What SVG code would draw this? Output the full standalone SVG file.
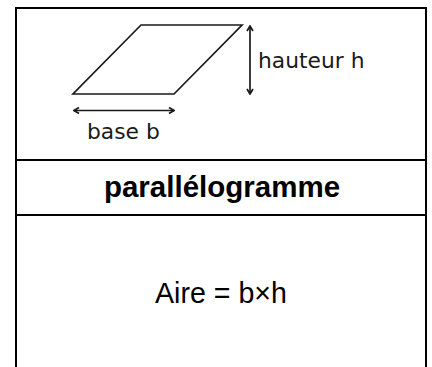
<svg xmlns="http://www.w3.org/2000/svg" width="432" height="367" viewBox="0 0 432 367">
<style>
.frame{stroke:#000;stroke-width:2;fill:none}
.fig{stroke:#1a1a1a;stroke-width:1.7;fill:none;stroke-linejoin:miter}
.lbl{font-family:"DejaVu Sans",sans-serif;font-size:21.8px;fill:#1a1a1a}
.title{font-family:"Liberation Sans",Arial,sans-serif;font-size:29.5px;font-weight:bold;fill:#000;text-anchor:middle}
.formula{font-family:"Liberation Sans",Arial,sans-serif;font-size:28.6px;fill:#000;text-anchor:middle}
</style>
<defs>
<marker id="ah" viewBox="0 0 8 8" refX="7" refY="4" markerWidth="8" markerHeight="8" markerUnits="userSpaceOnUse" orient="auto-start-reverse">
<path d="M2,1 L7,4 L2,7" fill="none" stroke="#1a1a1a" stroke-width="1.7"/>
</marker>
</defs>
<g id="table">
<line class="frame" x1="15" y1="8" x2="427" y2="8"/>
<line class="frame" x1="16" y1="7" x2="16" y2="367"/>
<line class="frame" x1="426" y1="7" x2="426" y2="367"/>
<line class="frame" x1="16" y1="160" x2="426" y2="160"/>
<line class="frame" x1="16" y1="215" x2="426" y2="215"/>
</g>
<g id="figure">
<polygon class="fig" points="73,94 174,94 242,25 141,25"/>
</g>
<g id="connectors">
<line class="fig" x1="74" y1="110.5" x2="174" y2="110.5" marker-start="url(#ah)" marker-end="url(#ah)"/>
<line class="fig" x1="250" y1="26" x2="250" y2="94" marker-start="url(#ah)" marker-end="url(#ah)"/>
</g>
<g id="label-base"><text class="lbl" x="87" y="139">base b</text></g>
<g id="label-hauteur"><text class="lbl" x="258" y="68">hauteur h</text></g>
<g id="title"><text class="title" x="222" y="197">parallélogramme</text></g>
<g id="formula"><text class="formula" x="221" y="303">Aire = b×h</text></g>
</svg>
